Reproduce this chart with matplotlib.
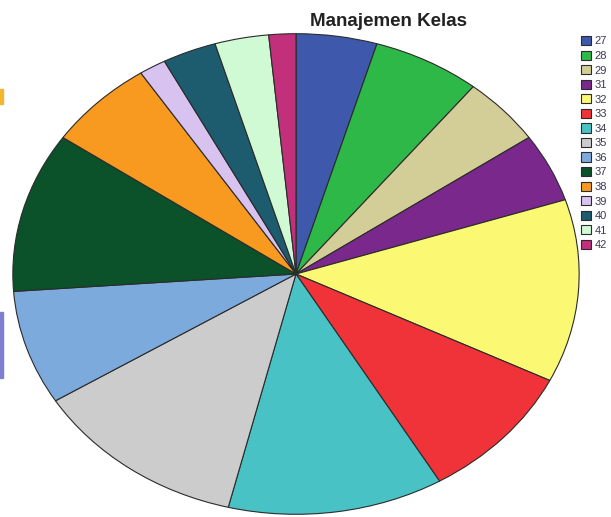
import matplotlib.pyplot as plt
from matplotlib.patches import Rectangle

# Manajemen Kelas score frequencies
scores = ["27", "28", "29", "31", "32", "33", "34", "35", "36", "37", "38", "39", "40", "41", "42"]
counts = [3, 4, 3, 3, 8, 6, 8, 8, 5, 7, 4, 1, 2, 2, 1]
colors = ["#3e58ac", "#2eb848", "#d3cd97", "#7a288c", "#fbf873", "#ef3338", "#48c2c5",
          "#cccccc", "#7caadc", "#0b5129", "#f89a20", "#d8c2f0", "#1c5c6e", "#cffad4", "#c2307c"]

W, H = 611, 517
fig = plt.figure(figsize=(W / 100, H / 100), dpi=100)

# pie is stretched into an ellipse: centre (296, 274) px, radii 284 x 241 px
cx, cy, rx, ry = 296, 274, 284, 241
ax = fig.add_axes([(cx - rx) / W, (H - cy - ry) / H, 2 * rx / W, 2 * ry / H])
wedges, _ = ax.pie(counts, colors=colors, startangle=90, counterclock=False,
                   wedgeprops=dict(edgecolor="#2b2b2b", linewidth=0.8))
ax.set_aspect("auto")
ax.set_xlim(-1.003, 1.003)
ax.set_ylim(-1.003, 1.003)
ax.axis("off")

fig.text(388 / W, 1 - 21 / H, "Manajemen Kelas", ha="center", va="center",
         fontsize=13.5, fontweight="bold", family="Liberation Sans", color="#222222")

leg = fig.legend(wedges, scores, loc="upper left", bbox_to_anchor=(581 / W, 1 - 36 / H),
                 frameon=False, handlelength=0.9, handleheight=0.9,
                 handletextpad=0.35, labelspacing=0.37, borderpad=0, borderaxespad=0,
                 prop={"family": "Liberation Sans", "size": 8})
for t in leg.get_texts():
    t.set_color("#3a3a55")

# bits of neighbouring content along the left border
fig.patches.append(Rectangle((0, 1 - 104 / H), 2.5 / W, 15 / H, transform=fig.transFigure,
                             color="#f3b530", zorder=0))
fig.patches.append(Rectangle((0, 1 - 378 / H), 2.5 / W, 66 / H, transform=fig.transFigure,
                             color="#7f7fd0", zorder=0))

fig.savefig("out.png", dpi=100)
